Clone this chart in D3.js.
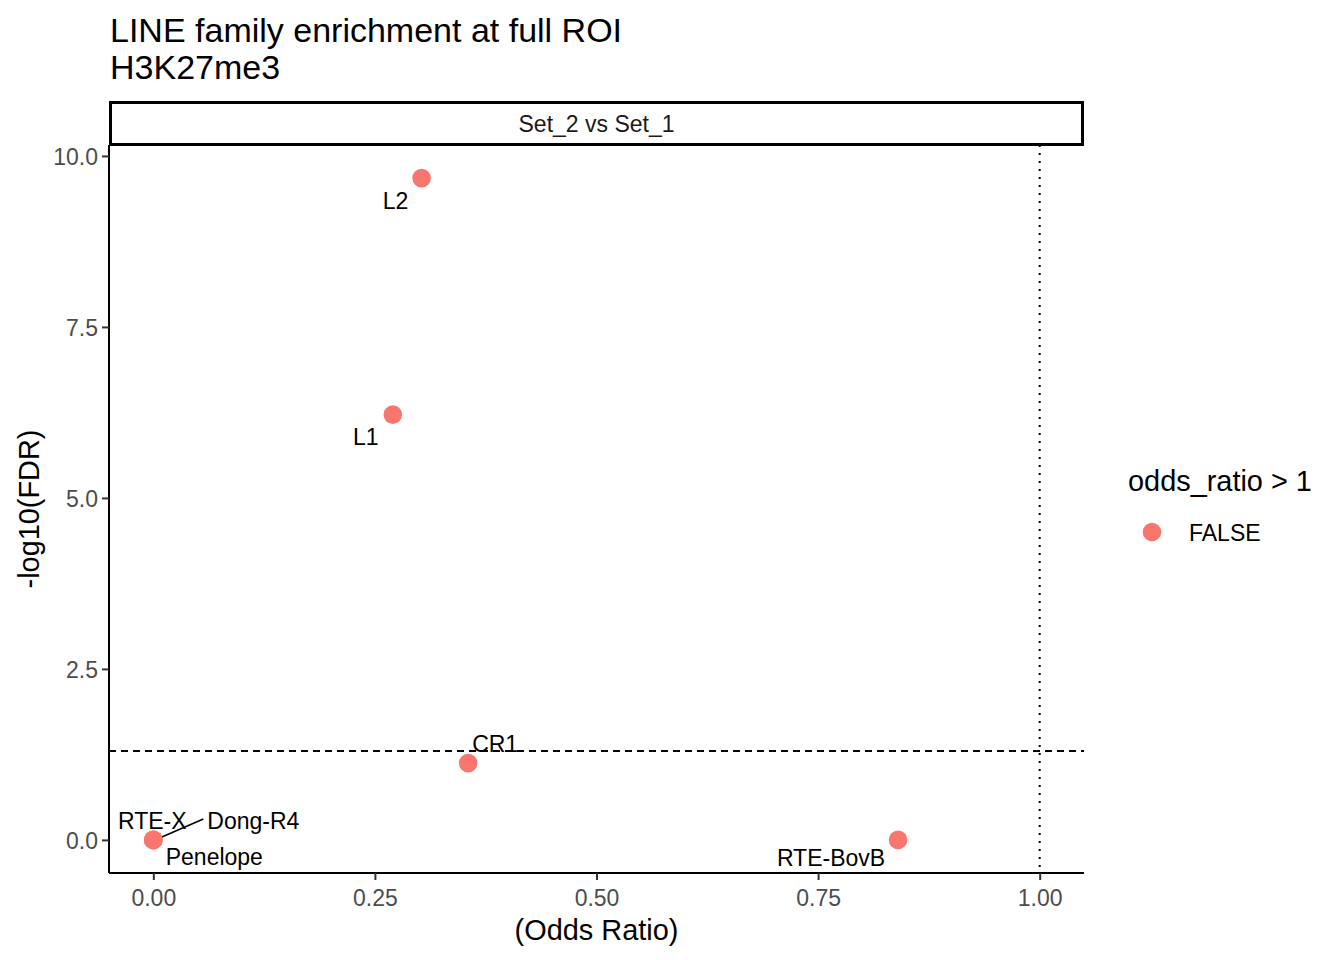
<!DOCTYPE html>
<html>
<head>
<meta charset="utf-8">
<script src="https://cdn.jsdelivr.net/npm/d3@7"></script>
<style>
  body { margin: 0; background: #fff; }
  text { font-family: "Liberation Sans", Arial, sans-serif; }
</style>
</head>
<body>
<div id="chart"></div>
<script>
// Data
const families = ["L2", "L1", "CR1", "RTE-X", "Dong-R4", "Penelope", "RTE-BovB"];
const oddsRatio = [0.3027, 0.2702, 0.3552, 0.0, 0.0, 0.0, 0.8402];
const negLogFdr = [9.676, 6.218, 1.123, 0.0, 0.0, 0.0, 0.0];
const xTicks = [0, 0.25, 0.5, 0.75, 1.0];
const yTicks = [0, 2.5, 5.0, 7.5, 10.0];
const legendLevels = ["FALSE"];

// Label placement (pixel offsets from the point, like ggrepel produced)
const labelOffset = {
  "L2": [-26, 31], "L1": [-27, 30], "CR1": [27, -11],
  "RTE-X": [-1, -11], "Dong-R4": [100, -11], "Penelope": [61, 25],
  "RTE-BovB": [-67, 26]
};

const W = 1344, H = 960;
const panel = {left: 109, right: 1084, top: 145, bottom: 873};
const fTitle = "34px", fAxisTitle = "28.9px", fSmall = "23px", fLabel = "23px";

const svg = d3.select("#chart").append("svg")
  .attr("width", W).attr("height", H);

const x = d3.scaleLinear().domain([-0.05, 1.05]).range([panel.left, panel.right]);
const y = d3.scaleLinear().domain([-0.484, 10.16]).range([panel.bottom, panel.top]);

const pts = families.map((f, i) => ({name: f, x: oddsRatio[i], y: negLogFdr[i]}));

// Title
svg.append("text").attr("x", 110).attr("y", 42)
  .style("font-size", fTitle).text("LINE family enrichment at full ROI");
svg.append("text").attr("x", 110).attr("y", 79)
  .style("font-size", fTitle).text("H3K27me3");

// Strip
svg.append("rect")
  .attr("x", panel.left + 1.5).attr("y", 102.5)
  .attr("width", panel.right - panel.left - 3).attr("height", 42)
  .attr("fill", "#fff").attr("stroke", "#000").attr("stroke-width", 3);
svg.append("text").attr("x", (panel.left + panel.right) / 2).attr("y", 132)
  .attr("text-anchor", "middle").style("font-size", fSmall).attr("fill", "#1A1A1A")
  .text("Set_2 vs Set_1");

// Reference lines
svg.append("line")
  .attr("x1", panel.left).attr("x2", panel.right)
  .attr("y1", y(-Math.log10(0.05))).attr("y2", y(-Math.log10(0.05)))
  .attr("stroke", "#000").attr("stroke-width", 2).attr("stroke-dasharray", "7,5");
svg.append("line")
  .attr("x1", x(1)).attr("x2", x(1))
  .attr("y1", panel.top).attr("y2", panel.bottom)
  .attr("stroke", "#000").attr("stroke-width", 2).attr("stroke-dasharray", "2,6");

// Axes
const xAxis = svg.append("g")
  .attr("transform", `translate(0,${panel.bottom})`)
  .call(d3.axisBottom(x).tickValues(xTicks).tickFormat(d3.format(".2f")).tickSize(7).tickSizeOuter(0));
const yAxis = svg.append("g")
  .attr("transform", `translate(${panel.left},0)`)
  .call(d3.axisLeft(y).tickValues(yTicks).tickFormat(d3.format(".1f")).tickSize(7).tickSizeOuter(0));

[xAxis, yAxis].forEach(g => {
  g.select(".domain").attr("stroke", "#000").attr("stroke-width", 2);
  g.selectAll(".tick line").attr("stroke", "#333").attr("stroke-width", 2);
  g.selectAll(".tick text").attr("fill", "#4D4D4D").style("font-size", fSmall)
    .style("font-family", '"Liberation Sans", Arial, sans-serif');
});
xAxis.selectAll(".tick text").attr("dy", "0").attr("y", 33);
yAxis.selectAll(".tick text").attr("dy", "0.36em").attr("x", -11);
xAxis.select(".domain").attr("d", `M${panel.left},0H${panel.right}`);
yAxis.select(".domain").attr("d", `M0,${panel.top}V${panel.bottom}`);

// Axis titles
svg.append("text")
  .attr("x", (panel.left + panel.right) / 2).attr("y", 940)
  .attr("text-anchor", "middle").style("font-size", fAxisTitle).text("(Odds Ratio)");
svg.append("text")
  .attr("transform", `translate(39,${(panel.top + panel.bottom) / 2}) rotate(-90)`)
  .attr("text-anchor", "middle").style("font-size", fAxisTitle).text("-log10(FDR)");

// Repel segment for Dong-R4
const dong = pts.find(d => d.name === "Dong-R4");
svg.append("line")
  .attr("x1", x(dong.x) + 4).attr("y1", y(dong.y) - 1)
  .attr("x2", x(dong.x) + 50).attr("y2", y(dong.y) - 21)
  .attr("stroke", "#000").attr("stroke-width", 1.6);

// Points
svg.append("g").selectAll("circle")
  .data(pts).enter().append("circle")
  .attr("cx", d => x(d.x)).attr("cy", d => y(d.y))
  .attr("r", 9.3).attr("fill", "#F8766D");

// Labels
svg.append("g").selectAll("text")
  .data(pts).enter().append("text")
  .attr("x", d => x(d.x) + labelOffset[d.name][0])
  .attr("y", d => y(d.y) + labelOffset[d.name][1])
  .attr("text-anchor", "middle").style("font-size", fLabel)
  .text(d => d.name);

// Legend
svg.append("text").attr("x", 1128).attr("y", 491)
  .style("font-size", fAxisTitle).text("odds_ratio > 1");
const leg = svg.append("g").selectAll("g").data(legendLevels).enter().append("g");
leg.append("circle").attr("cx", 1152).attr("cy", (d, i) => 532 + i * 34)
  .attr("r", 9.3).attr("fill", "#F8766D");
leg.append("text").attr("x", 1189).attr("y", (d, i) => 541 + i * 34)
  .style("font-size", fSmall).text(d => d);
</script>
</body>
</html>
